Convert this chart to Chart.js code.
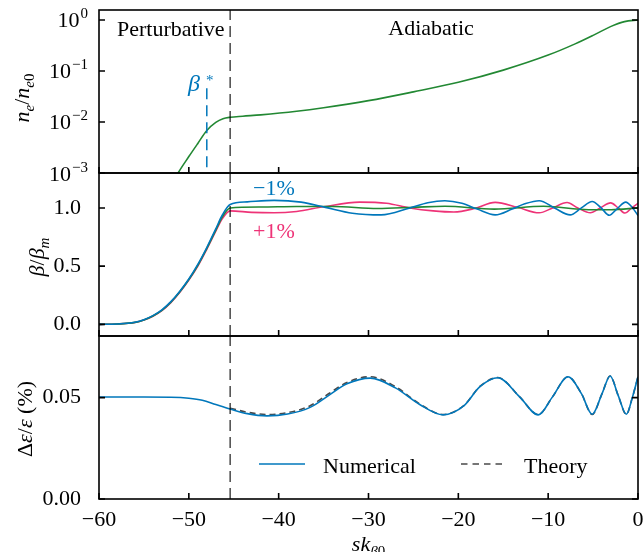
<!DOCTYPE html>
<html>
<head>
<meta charset="utf-8">
<script src="https://cdn.jsdelivr.net/npm/chart.js@4.4.1/dist/chart.umd.min.js"></script>
<style>
  html, body { margin: 0; padding: 0; background: #fff; }
  #wrap { position: relative; width: 644px; height: 552px; overflow: hidden; background: #fff; }
  #wrap canvas { position: absolute; left: 0; }
</style>
</head>
<body>
<div id="wrap">
  <canvas id="cDensity" width="644" height="190" style="top:0px"></canvas>
  <canvas id="cBeta" width="644" height="190" style="top:163px"></canvas>
  <canvas id="cSpread" width="644" height="226" style="top:326px"></canvas>
</div>
<script>
// ---- data -------------------------------------------------------------
const xTickValues = [-60, -50, -40, -30, -20, -10, 0];

// plasma density profile n_e / n_e0
const densityS = [-52, -51.2, -50, -49, -48, -47, -46.2, -45.4, -44, -42, -38, -35, -30, -25, -20, -15, -10, -7, -5, -3, -1.5, 0];
const densityN = [0.00055, 0.001, 0.0021, 0.0038, 0.0068, 0.0098, 0.0116, 0.0124, 0.0130, 0.0138, 0.0162, 0.0190, 0.0262, 0.0390, 0.0600, 0.104, 0.205, 0.34, 0.50, 0.75, 0.93, 1.0];
const densityTicks = [1e-3, 1e-2, 1e-1, 1];

// beta-function ratio, matched case and +/-1 % mismatch
const betaNomS = [-60, -58, -56, -55, -54, -53, -52, -51, -50, -49, -48, -47, -46.3, -45.4, -42, -38, -34, -29, -25, -21.5, -16, -10.5, -5.5, -3, 0];
const betaNom  = [0, 0.003, 0.017, 0.038, 0.072, 0.12, 0.19, 0.28, 0.385, 0.507, 0.652, 0.81, 0.92, 1.0, 1.008, 1.012, 1.012, 0.995, 1.005, 1.014, 0.99, 1.014, 0.985, 0.985, 1.0];

const betaMinusS = [-60, -58, -56, -55, -54, -53, -52, -51, -50, -49, -48, -47, -46.3, -45.4, -43.5, -40.5, -37.5, -34.8, -31.8, -28.6, -25.4, -23.4, -21.5, -19.6, -17.9, -15.9, -14.0, -12.6, -11.0, -9.3, -7.55, -6.3, -5.1, -4.1, -3.2, -2.3, -1.37, -0.6, 0];
const betaMinus  = [0, 0.003, 0.018, 0.04, 0.075, 0.125, 0.195, 0.285, 0.39, 0.515, 0.66, 0.82, 0.935, 1.03, 1.052, 1.065, 1.05, 1.005, 0.955, 0.94, 1.0, 1.045, 1.062, 1.04, 0.99, 0.94, 0.99, 1.035, 1.062, 1.0, 0.94, 1.0, 1.055, 1.0, 0.937, 0.995, 1.05, 1.0, 0.935];

const betaPlusS = [-60, -58, -56, -55, -54, -53, -52, -51, -50, -49, -48, -47, -46.3, -45.4, -43, -40.5, -38, -35, -31, -28, -25.4, -22.8, -20.5, -18.2, -15.9, -13.4, -11.0, -9.5, -7.9, -6.7, -5.3, -4.2, -3.05, -2.2, -1.45, -0.7, 0];
const betaPlus  = [0, 0.003, 0.016, 0.037, 0.07, 0.118, 0.187, 0.275, 0.38, 0.5, 0.645, 0.8, 0.905, 0.975, 0.962, 0.958, 0.97, 1.01, 1.05, 1.04, 1.0, 0.975, 0.965, 0.995, 1.048, 1.005, 0.958, 1.0, 1.047, 1.0, 0.958, 1.0, 1.043, 1.0, 0.956, 1.0, 1.04];
const betaTicks = [0, 0.5, 1.0];

// energy spread, numerical and theory
const spreadS = [-60, -55, -52, -50, -48.5, -47, -45.4, -43.5, -41.3, -39, -36.5, -34.3, -32.4, -29.8, -27, -24.3, -21.7, -19.4, -17.6, -15.6, -13.2, -11.1, -9.5, -7.8, -6.3, -5.1, -4.0, -3.1, -2.2, -1.3, -0.6, 0];
const spreadNumerical = [0.0503, 0.0503, 0.0502, 0.0497, 0.0487, 0.0466, 0.0444, 0.0421, 0.0410, 0.0419, 0.0452, 0.0515, 0.0568, 0.0596, 0.0548, 0.0466, 0.0415, 0.0459, 0.0554, 0.0598, 0.0505, 0.0415, 0.0505, 0.0603, 0.0520, 0.0418, 0.0520, 0.0607, 0.0510, 0.0418, 0.0505, 0.0603];
const theoryS = [-45.4, -43.5, -41.3, -39, -36.5, -34.3, -32.4, -29.8, -27, -24.3, -21.7, -19.4, -17.6, -15.6, -13.2, -11.1, -9.5, -7.8, -6.3, -5.1, -4.0, -3.1, -2.2, -1.3, -0.6, 0];
const spreadTheory = [0.0448, 0.0428, 0.0417, 0.0426, 0.0460, 0.0523, 0.0575, 0.0603, 0.0554, 0.0469, 0.0417, 0.0460, 0.0555, 0.0599, 0.0505, 0.0416, 0.0505, 0.0603, 0.0520, 0.0417, 0.0520, 0.0607, 0.0510, 0.0417, 0.0505, 0.0603];
const spreadTicks = [0, 0.05];

// regime boundary and beta* position
const boundaryS = -45.4;
const betaStarS = -48.0;
const betaStarRange = [0.0013, 0.048];

// axis limits
const densityLimits = [1e-3, 1.57];
const betaLimits = [-0.1, 1.3];
const spreadLimits = [0, 0.0804];

// ---- style ------------------------------------------------------------
const SERIF = '"Liberation Serif", "Times New Roman", serif';
const GREEN = '#228833', BLUE = '#0077BB', PINK = '#EE3377';
const BOUNDARY = 'rgba(0,0,0,0.72)', THEORY = '#4a4a4a';
const DASH = [11, 6];

Chart.defaults.font.family = SERIF;
Chart.defaults.font.size = 22;
Chart.defaults.color = '#000';

const pts = (xs, ys) => xs.map((x, i) => ({ x: x, y: ys[i] }));
const lineStyle = (color, extra) => Object.assign({
  borderColor: color, borderWidth: 1.6, pointRadius: 0, fill: false,
  cubicInterpolationMode: 'monotone'
}, extra || {});

// draws a run of text pieces (italic / sub / sup) centred on (x, y)
function richText(ctx, parts, x, y, angle, color) {
  ctx.save();
  ctx.translate(x, y);
  ctx.rotate(angle || 0);
  ctx.fillStyle = color || '#000';
  ctx.textBaseline = 'alphabetic';
  ctx.textAlign = 'left';
  const font = p => (p.it ? 'italic ' : '') + ((p.sub || p.sup) ? 15 : 22) + 'px ' + SERIF;
  let total = 0;
  parts.forEach(p => { ctx.font = font(p); p.w = ctx.measureText(p.t).width; total += p.w; });
  let cx = -total / 2;
  parts.forEach(p => {
    ctx.font = font(p);
    ctx.fillText(p.t, cx, p.sub ? 5 : (p.sup ? -9 : 0));
    cx += p.w;
  });
  ctx.restore();
}

// frame with inward ticks on left, right and bottom
function framePlugin(yTicks) {
  return {
    id: 'panelFrame',
    afterDraw(chart) {
      const { ctx, chartArea: a, scales } = chart;
      ctx.save();
      ctx.strokeStyle = '#000';
      ctx.lineWidth = 1.6;
      ctx.beginPath();
      xTickValues.forEach(v => {
        const px = scales.x.getPixelForValue(v);
        ctx.moveTo(px, a.bottom); ctx.lineTo(px, a.bottom - 6);
      });
      yTicks.forEach(v => {
        const py = scales.y.getPixelForValue(v);
        ctx.moveTo(a.left, py); ctx.lineTo(a.left + 6, py);
        ctx.moveTo(a.right, py); ctx.lineTo(a.right - 6, py);
      });
      ctx.stroke();
      ctx.strokeRect(a.left, a.top, a.right - a.left, a.bottom - a.top);
      ctx.restore();
    }
  };
}

// scales keep no label overhang so every panel shares the same plot box
function noOverhang(sc) {
  sc.paddingTop = 0; sc.paddingBottom = 0; sc.paddingLeft = 0; sc.paddingRight = 0;
}

function xScale(showLabels) {
  const s = {
    type: 'linear', min: -60, max: 0,
    afterBuildTicks: sc => { sc.ticks = xTickValues.map(v => ({ value: v })); },
    grid: { display: false }, border: { display: false }
  };
  if (!showLabels) { s.display = false; return s; }
  s.ticks = { padding: 0, font: { size: 22 }, color: '#000', maxRotation: 0,
              callback: v => (v < 0 ? '\u2212' : '') + Math.abs(v) };
  s.afterFit = sc => { sc.height = 53; noOverhang(sc); };
  return s;
}

function yScale(base, ticks, fmt) {
  return Object.assign({
    afterFit: sc => { sc.width = 99; noOverhang(sc); },
    afterBuildTicks: sc => { sc.ticks = ticks.map(v => ({ value: v })); },
    grid: { display: false }, border: { display: false },
    ticks: { padding: 10, font: { size: 22 }, color: '#000', callback: fmt }
  }, base);
}

function baseOptions(x, y, padBottom) {
  return {
    responsive: false, animation: false, events: [],
    layout: { padding: { left: 0, right: 6, top: 10, bottom: padBottom } },
    plugins: { legend: { display: false }, tooltip: { enabled: false } },
    scales: { x: x, y: y }
  };
}

// ---- top panel: density --------------------------------------------------
new Chart(document.getElementById('cDensity'), {
  type: 'line',
  data: {
    datasets: [
      lineStyle(BOUNDARY, { data: [{ x: boundaryS, y: densityLimits[0] }, { x: boundaryS, y: densityLimits[1] }], borderDash: DASH, borderWidth: 1.5, cubicInterpolationMode: 'default', tension: 0 }),
      lineStyle(BLUE, { data: [{ x: betaStarS, y: betaStarRange[0] }, { x: betaStarS, y: betaStarRange[1] }], borderDash: DASH, borderWidth: 1.5, cubicInterpolationMode: 'default', tension: 0 }),
      lineStyle(GREEN, { label: 'n_e/n_e0', data: pts(densityS, densityN) })
    ]
  },
  options: baseOptions(
    xScale(false),
    yScale({ type: 'logarithmic', min: densityLimits[0], max: densityLimits[1] }, densityTicks, () => ''),
    17),
  plugins: [framePlugin(densityTicks), {
    id: 'densityText',
    afterDraw(chart) {
      const ctx = chart.ctx, y = chart.scales.y;
      ctx.save();
      ctx.fillStyle = '#000';
      densityTicks.forEach(v => {
        const e = Math.round(Math.log10(v));
        const py = y.getPixelForValue(v);
        const sup = e === 0 ? '0' : '\u2212' + (-e);
        ctx.font = '15px ' + SERIF;
        const supW = ctx.measureText(sup).width;
        ctx.font = '22px ' + SERIF;
        const tenW = ctx.measureText('10').width;
        const end = 88;
        ctx.textAlign = 'left'; ctx.textBaseline = 'alphabetic';
        ctx.fillText('10', end - supW - 1 - tenW, py + 7.5);
        ctx.font = '15px ' + SERIF;
        ctx.fillText(sup, end - supW, py - 1.5);
      });
      ctx.font = '22px ' + SERIF;
      ctx.textAlign = 'left';
      ctx.fillText('Perturbative', 117, 36);
      ctx.textAlign = 'center';
      ctx.fillText('Adiabatic', 431, 35);
      // beta* marker label
      ctx.fillStyle = BLUE;
      ctx.textAlign = 'left';
      ctx.font = 'italic 24px ' + SERIF;
      ctx.fillText('\u03B2', 188, 91);
      ctx.font = '15px ' + SERIF;
      ctx.fillText('*', 206, 85);
      ctx.restore();
      richText(ctx, [
        { t: 'n', it: true }, { t: 'e', it: true, sub: true }, { t: '/' },
        { t: 'n', it: true }, { t: 'e', it: true, sub: true }, { t: '0', sub: true }
      ], 29, 98, -Math.PI / 2);
    }
  }]
});

// ---- middle panel: beta ratio ---------------------------------------------
new Chart(document.getElementById('cBeta'), {
  type: 'line',
  data: {
    datasets: [
      lineStyle(BOUNDARY, { data: [{ x: boundaryS, y: betaLimits[0] }, { x: boundaryS, y: betaLimits[1] }], borderDash: DASH, borderWidth: 1.5, cubicInterpolationMode: 'default', tension: 0 }),
      lineStyle(BLUE, { label: '\u22121%', data: pts(betaMinusS, betaMinus) }),
      lineStyle(GREEN, { label: 'matched', data: pts(betaNomS, betaNom) }),
      lineStyle(PINK, { label: '+1%', data: pts(betaPlusS, betaPlus) })
    ]
  },
  options: baseOptions(
    xScale(false),
    yScale({ type: 'linear', min: betaLimits[0], max: betaLimits[1] }, betaTicks, v => v.toFixed(1)),
    17),
  plugins: [framePlugin(betaTicks), {
    id: 'betaText',
    afterDraw(chart) {
      const ctx = chart.ctx;
      ctx.save();
      ctx.font = '22px ' + SERIF;
      ctx.textAlign = 'left'; ctx.textBaseline = 'alphabetic';
      ctx.fillStyle = BLUE; ctx.fillText('\u22121%', 253, 32);
      ctx.fillStyle = PINK; ctx.fillText('+1%', 253, 75);
      ctx.restore();
      richText(ctx, [
        { t: '\u03B2', it: true }, { t: '/' }, { t: '\u03B2', it: true }, { t: 'm', it: true, sub: true }
      ], 44, 94, -Math.PI / 2);
    }
  }]
});

// ---- bottom panel: energy spread -------------------------------------------
new Chart(document.getElementById('cSpread'), {
  type: 'line',
  data: {
    datasets: [
      lineStyle(BOUNDARY, { data: [{ x: boundaryS, y: spreadLimits[0] }, { x: boundaryS, y: spreadLimits[1] }], borderDash: DASH, borderWidth: 1.5, cubicInterpolationMode: 'default', tension: 0 }),
      lineStyle(BLUE, { label: 'Numerical', data: pts(spreadS, spreadNumerical) }),
      lineStyle(THEORY, { label: 'Theory', data: pts(theoryS, spreadTheory), borderDash: [6, 4] })
    ]
  },
  options: baseOptions(
    xScale(true),
    yScale({ type: 'linear', min: spreadLimits[0], max: spreadLimits[1] }, spreadTicks, v => v.toFixed(2)),
    0),
  plugins: [framePlugin(spreadTicks), {
    id: 'spreadText',
    afterDraw(chart) {
      const ctx = chart.ctx;
      const sets = chart.data.datasets;
      // legend entries
      const entries = [
        { ds: sets[1], x0: 259, x1: 305, tx: 323 },
        { ds: sets[2], x0: 461, x1: 504, tx: 524 }
      ];
      ctx.save();
      entries.forEach(e => {
        ctx.strokeStyle = e.ds.borderColor;
        ctx.lineWidth = e.ds.borderWidth;
        ctx.setLineDash(e.ds.borderDash ? [6.5, 5] : []);
        ctx.beginPath(); ctx.moveTo(e.x0, 138); ctx.lineTo(e.x1, 138); ctx.stroke();
        ctx.setLineDash([]);
        ctx.fillStyle = '#000';
        ctx.font = '22px ' + SERIF;
        ctx.textAlign = 'left'; ctx.textBaseline = 'alphabetic';
        ctx.fillText(e.ds.label, e.tx, 147);
      });
      ctx.restore();
      richText(ctx, [
        { t: '\u0394' }, { t: '\u03B5', it: true }, { t: '/' }, { t: '\u03B5', it: true }, { t: ' (%)' }
      ], 32, 93, -Math.PI / 2);
      const a = chart.chartArea;
      richText(ctx, [
        { t: 's', it: true }, { t: 'k', it: true }, { t: '\u03B2', it: true, sub: true }, { t: '0', sub: true }
      ], (a.left + a.right) / 2, 225, 0);
    }
  }]
});
</script>
</body>
</html>
